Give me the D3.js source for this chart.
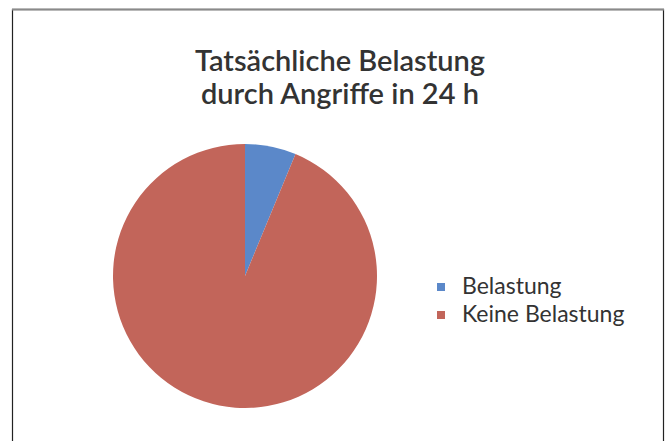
<!DOCTYPE html>
<html>
<head>
<meta charset="utf-8">
<script src="https://cdn.jsdelivr.net/npm/d3@7"></script>
<style>
  body { margin: 0; background: #fff; }
  text { font-family: Lato, "Open Sans", sans-serif; fill: #333; }
</style>
</head>
<body>
<div id="chart"></div>
<script>
// data
var categories = ['Belastung', 'Keine Belastung']
var hours = [1.5, 22.5]
var colors = ['#5b88c9', '#c2655a']
var titleLines = ['Tatsächliche Belastung', 'durch Angriffe in 24 h']

var width = 668, height = 441
var pieCenter = {x: 245, y: 276}
var radius = 132

var data = categories.map(function(c, i){ return {name: c, value: hours[i], color: colors[i]} })

var svg = d3.select('#chart')
            .append('svg')
            .attr('width', width)
            .attr('height', height)

// frame
svg.append('rect')
   .attr('x', 12.5)
   .attr('y', 9.5)
   .attr('width', 651)
   .attr('height', 445)
   .style('fill', 'none')
   .style('stroke', '#222')
   .style('stroke-width', 1.2)

svg.append('line')
   .attr('x1', 12).attr('x2', 664)
   .attr('y1', 9.5).attr('y2', 9.5)
   .style('stroke', '#8a8a8a')
   .style('stroke-width', 2)

// title
svg.append('g')
   .selectAll('text')
   .data(titleLines)
   .enter()
   .append('text')
   .attr('x', 340)
   .attr('y', function(d, i){ return 71 + i * 33 })
   .attr('text-anchor', 'middle')
   .style('font-size', '29px')
   .style('font-weight', 600)
   .text(function(d){ return d })

// pie
var pie = d3.pie().sort(null).value(function(d){ return d.value })
var arc = d3.arc().innerRadius(0).outerRadius(radius)

svg.append('g')
   .attr('transform', 'translate(' + pieCenter.x + ',' + pieCenter.y + ')')
   .selectAll('path')
   .data(pie(data))
   .enter()
   .append('path')
   .attr('d', arc)
   .style('fill', function(d){ return d.data.color })

// legend
var legend = svg.append('g')
                .attr('transform', 'translate(437,283)')

var item = legend.selectAll('.item')
                 .data(data)
                 .enter()
                 .append('g')
                 .attr('class', 'item')
                 .attr('transform', function(d, i){ return 'translate(0,' + i * 28 + ')' })

item.append('rect')
    .attr('width', 8)
    .attr('height', 8)
    .style('fill', function(d){ return d.color })

item.append('text')
    .attr('x', 25)
    .attr('y', 11)
    .style('font-size', '23px')
    .text(function(d){ return d.name })
</script>
</body>
</html>
